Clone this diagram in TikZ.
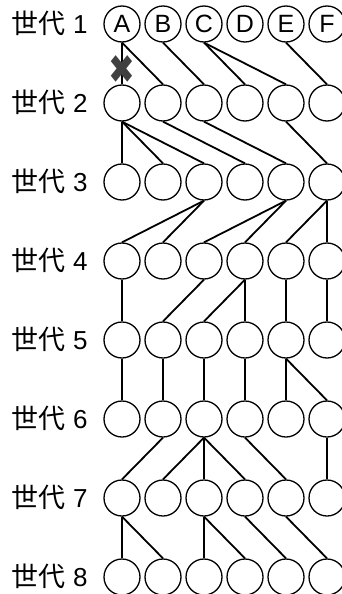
\documentclass[tikz,border=0pt]{standalone}
\usepackage{fontspec}
\newfontfamily\jpfont{Noto Sans CJK JP}
\newfontfamily\latinfont{Liberation Sans}
\newfontfamily\symfont{DejaVu Sans}

\begin{document}
\begin{tikzpicture}[x=1pt,y=-1pt,
    gen node/.style={circle,draw,line width=1.3pt,minimum size=36pt,inner sep=0pt,
      font=\latinfont\fontsize{25}{25}\selectfont},
    gen label/.style={font=\jpfont\fontsize{27}{27}\selectfont,inner sep=0pt,anchor=west},
    link/.style={line width=1.8pt}]
  \useasboundingbox (0,0) rectangle (341,594);
  % first generation carries the letters
  \foreach \i/\t in {1/A,2/B,3/C,4/D,5/E,6/F}
    \node[gen node] at ({122+41*(\i-1)},24) (g1-\i) {\t};
  % the later generations
  \foreach \g in {2,...,8}
    \foreach \i in {1,...,6}
      \node[gen node] at ({122+41*(\i-1)},{24+79*(\g-1)}) (g\g-\i) {};
  \foreach \g in {1,...,8}
    \node[gen label] at (11,{23+79*(\g-1)}) (lbl\g)
      {世代\hspace{8pt}{\latinfont\fontsize{26}{26}\selectfont\g}};
  % parent/child links, generation/parent/child
  \foreach \g/\p/\c in {1/1/1,1/1/2,1/2/3,1/3/4,1/3/5,1/5/6,
                        2/1/1,2/1/2,2/1/3,2/2/4,2/3/5,2/5/6,
                        3/3/1,3/3/2,3/5/3,3/5/4,3/6/5,3/6/6,
                        4/1/1,4/3/2,4/4/3,4/4/4,4/5/5,4/6/6,
                        5/1/1,5/2/2,5/3/3,5/4/4,5/5/5,5/5/6,
                        6/2/1,6/3/2,6/3/3,6/3/4,6/4/5,6/6/6,
                        7/1/1,7/1/2,7/3/3,7/3/4,7/4/5,7/5/6}{
    \pgfmathtruncatemacro\n{\g+1}
    \draw[link] (g\g-\p.south) -- (g\n-\c.north);
  }
  \node[font=\symfont\fontsize{32}{32}\selectfont,text=black!75,inner sep=0pt,yscale=1.25]
    at (122,70) (cut) {✖};
\end{tikzpicture}
\end{document}
